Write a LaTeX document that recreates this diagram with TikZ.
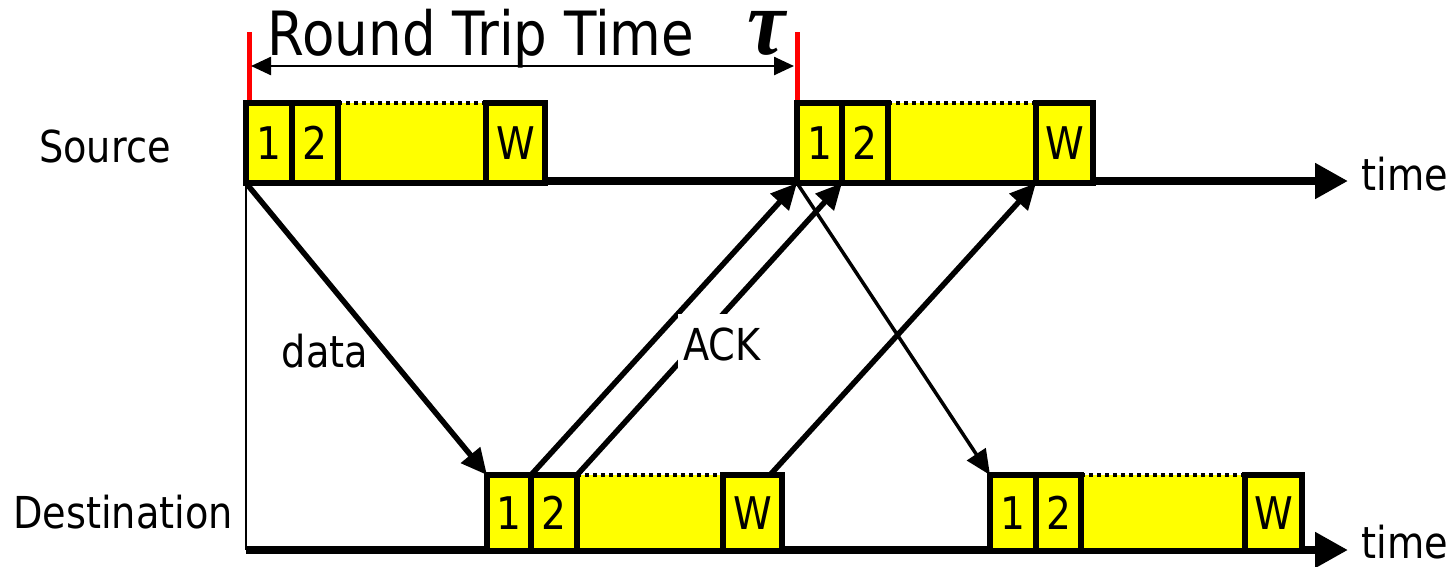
\documentclass[tikz,border=0pt]{standalone}
\usepackage{fontspec}
\setmainfont{DejaVu Sans}[FakeStretch=0.87]
\newfontfamily\taufont{Liberation Serif}
\usepackage{graphicx}
\usetikzlibrary{arrows.meta}
\definecolor{ylw}{RGB}{255,255,0}
\newcommand\pktrow[8]{%
  \node[midseg, minimum width={#5-#4}, minimum height={#8-#7}] (#1m) at ({(#4+#5)/2},{(#7+#8)/2}) {};
  \draw[line width=4pt, dash pattern=on 4pt off 4pt] (#1m.north west) -- (#1m.north east);
  \draw[line width=6pt] (#1m.south west) -- (#1m.south east);
  \node[pkt, minimum width={#3-#2}, minimum height={#8-#7}] (#1a) at ({(#2+#3)/2},{(#7+#8)/2}) {1};
  \node[pkt, minimum width={#4-#3}, minimum height={#8-#7}] (#1b) at ({(#3+#4)/2},{(#7+#8)/2}) {2};
  \node[pkt, minimum width={#6-#5}, minimum height={#8-#7}] (#1w) at ({(#5+#6)/2},{(#7+#8)/2}) {W};
}
\begin{document}
\begin{tikzpicture}[x=1pt,y=-1pt,
  pkt/.style={draw, line width=6pt, fill=ylw, inner sep=0pt, outer sep=0pt, font=\fontsize{45}{50}\selectfont},
  midseg/.style={fill=ylw, inner sep=0pt, outer sep=0pt},
  lbl/.style={font=\fontsize{44}{50}\selectfont, inner sep=0pt},
  axisline/.style={line width=8pt, -{Triangle[length=33pt,width=34pt]}},
  ackarr/.style={line width=5.5pt, -{Triangle[length=26pt,width=24pt]}},
  datathin/.style={line width=3.5pt, -{Triangle[length=25pt,width=22pt]}},
  rttarr/.style={line width=2.5pt, {Triangle[length=20pt,width=18pt]}-{Triangle[length=20pt,width=18pt]}},
  redmark/.style={red, line width=5pt}]
\useasboundingbox (0,0) rectangle (1454,566);

% axes
\coordinate (sax0) at (246,181);
\coordinate (sax1) at (1348,181);
\coordinate (dax0) at (246,550);
\coordinate (dax1) at (1348,550);
\draw[axisline] (sax0) -- (sax1);
\draw[axisline] (dax0) -- (dax1);

% packet rows
\pktrow{s1}{246}{292}{338}{486}{545}{103}{183}
\pktrow{s2}{797}{842}{888}{1036}{1093}{103}{183}
\pktrow{d1}{487}{531}{577}{723}{782}{475}{551}
\pktrow{d2}{990}{1036}{1081}{1245}{1302}{475}{551}

% left vertical line
\draw[line width=2.5pt] (s1a.south west) -- (dax0);

% red markers and round trip arrow
\coordinate (ra0) at (249,32);
\coordinate (ra1) at (249,100);
\coordinate (rb0) at (797,32);
\coordinate (rb1) at (797,100);
\draw[redmark] (ra0) -- (ra1);
\draw[redmark] (rb0) -- (rb1);
\coordinate (la) at (251,66);
\coordinate (lb) at (794,66);
\draw[rttarr] (la) -- (lb);

% data and ack arrows
\coordinate (d1wa) at (770,475);
\draw[ackarr] (s1a.south west) -- (d1a.north west);
\draw[ackarr] (d1a.north east) -- (s2a.south west);
\draw[ackarr] (d1b.north east) -- (s2b.south west);
\draw[ackarr] (d1wa) -- (s2w.south west);
\draw[datathin] (s2a.south west) -- (d2a.north west);

% labels
\node[lbl, anchor=base] (src) at (105,162) {Source};
\node[lbl, anchor=base] (dst) at (123,528) {Destination};
\node[lbl, anchor=base] (t1) at (1405,190) {time};
\node[lbl, anchor=base] (t2) at (1405,558) {time};
\node[lbl, anchor=base] (dat) at (325,367) {data};
\node[lbl, fill=white, inner xsep=5pt, inner ysep=13pt] (ack) at (722,344) {ACK};
\node[font=\fontsize{61}{66}\selectfont, inner sep=0pt, anchor=base] (rtt) at (481,55) {Round Trip Time};
\node[inner sep=0pt] (tau) at (766,33) {\resizebox*{38pt}{44pt}{\taufont\bfseries\itshape τ}};
\end{tikzpicture}
\end{document}
